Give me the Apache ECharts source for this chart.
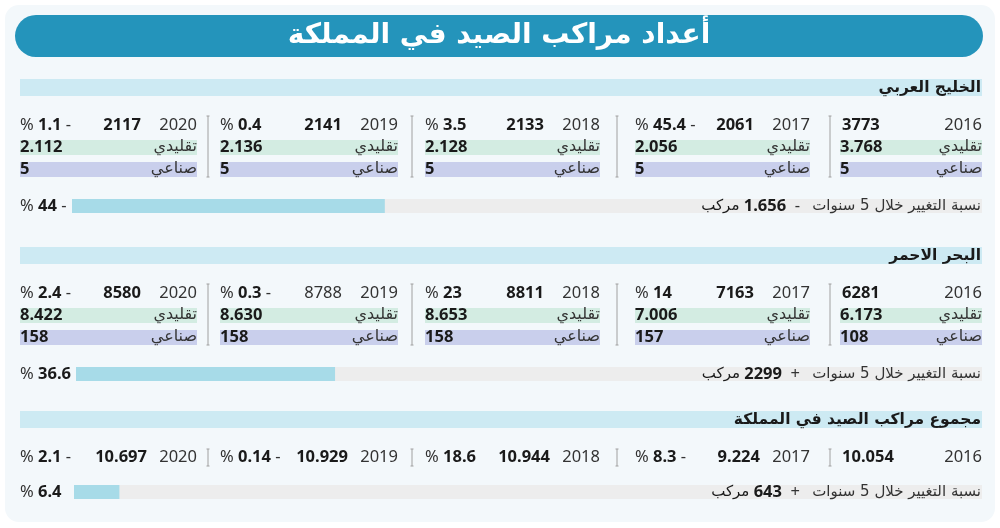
<!DOCTYPE html>
<html>
<head>
<meta charset="utf-8">
<script src="https://cdn.jsdelivr.net/npm/echarts@6/dist/echarts.min.js"></script>
<style>
  html, body { margin: 0; padding: 0; background: #ffffff; }
  #main { width: 1000px; height: 528px; }
</style>
</head>
<body>
<div id="main"></div>
<script>
// البيانات
var title = 'أعداد مراكب الصيد في المملكة';
var years = ['2016', '2017', '2018', '2019', '2020'];
var tradLabel = 'تقليدي';
var indLabel = 'صناعي';
var fiveYearLabel = 'نسبة التغيير خلال 5 سنوات';
var shipsLabel = 'مركب';

var gulfName = 'الخليج العربي';
var gulfTotal = ['3773', '2061', '2133', '2141', '2117'];
var gulfChange = [null, -45.4, 3.5, 0.4, -1.1];
var gulfTrad = ['3.768', '2.056', '2.128', '2.136', '2.112'];
var gulfInd = ['5', '5', '5', '5', '5'];
var gulfFive = -44;
var gulfShips = '1.656';

var redName = 'البحر الاحمر';
var redTotal = ['6281', '7163', '8811', '8788', '8580'];
var redChange = [null, 14, 23, -0.3, -2.4];
var redTrad = ['6.173', '7.006', '8.653', '8.630', '8.422'];
var redInd = ['108', '157', '158', '158', '158'];
var redFive = 36.6;
var redShips = '2299';

var allName = 'مجموع مراكب الصيد في المملكة';
var allTotal = ['10.054', '9.224', '10.944', '10.929', '10.697'];
var allChange = [null, -8.3, 18.6, -0.14, -2.1];
var allFive = 6.4;
var allShips = '643';

var myChart = echarts.init(document.getElementById('main'));

var numFont = "'Noto Sans', 'DejaVu Sans', sans-serif";
var arFont = "'DejaVu Sans', 'Noto Sans', sans-serif";
var ink = '#1a1a1a';
var fs = 16.5;

// أعمدة السنوات من اليمين إلى اليسار
var colLeft = [840, 635, 425, 220, 20];
var colRight = [982, 810, 600, 398, 197];
var sepX = [830, 617, 412, 208];

var richPct = {
  n: { fontSize: fs, fontFamily: numFont, fill: '#333333' },
  b: { fontSize: fs, fontWeight: 'bold', fontFamily: numFont, fill: ink }
};

function pctText(v) {
  var s = '{n|%} {b|' + Math.abs(v) + '}';
  if (v < 0) s += ' {n|-}';
  return s;
}

var elements = [];

function rect(x, y, w, h, color, r) {
  elements.push({
    type: 'rect', z: -10, silent: true,
    shape: { x: x, y: y, width: w, height: h, r: r || 0 },
    style: { fill: color }
  });
}

function text(x, y, str, opts) {
  elements.push({
    type: 'text', z: 20, silent: true,
    style: Object.assign({
      x: x, y: y, text: str, fill: ink,
      fontSize: fs, fontFamily: numFont,
      align: 'left', verticalAlign: 'middle'
    }, opts || {})
  });
}

function sep(x, y1, y2) {
  elements.push({
    type: 'line', z: 5, silent: true,
    shape: { x1: x, y1: y1, x2: x, y2: y2 },
    style: { stroke: '#a0a0a0', lineWidth: 1 }
  });
  [y1, y2].forEach(function (y) {
    elements.push({
      type: 'line', z: 5, silent: true,
      shape: { x1: x - 1.5, y1: y, x2: x + 1.5, y2: y },
      style: { stroke: '#a0a0a0', lineWidth: 1 }
    });
  });
}

// الخلفية والعنوان
rect(5, 5, 990, 517, '#f3f8fb', 14);
rect(15, 15, 968, 42, '#2494bb', 21);
text(499, 36, title, {
  fill: '#ffffff', fontSize: 28, fontWeight: 'bold', fontFamily: arFont, align: 'center'
});

function section(top, name, totals, changes, trad, ind, five, ships, barY) {
  rect(20, top, 962, 17, '#cdeaf3');
  text(981, top + 9, name, { fontSize: 15.5, fontWeight: 'bold', fontFamily: arFont, align: 'right' });

  var yRow = top + 46;
  var hasRows = !!trad;
  for (var i = 0; i < years.length; i++) {
    var L = colLeft[i], R = colRight[i];
    text(R, yRow, years[i], { align: 'right', fill: '#333333' });
    var plain = (name === redName && i === 3);
    if (changes[i] === null) {
      text(L + 2, yRow, totals[i], { fontWeight: 'bold' });
    } else {
      text(R - (hasRows ? 56 : 50), yRow, totals[i], {
        align: 'right', fontWeight: plain ? 'normal' : 'bold', fill: plain ? '#333333' : ink
      });
      text(L, yRow, pctText(changes[i]), { rich: richPct });
    }
    if (hasRows) {
      rect(L, yRow + 15, R - L, 15, '#d3ece2');
      rect(L, yRow + 37, R - L, 15, '#c9cfec');
      text(L, yRow + 22, trad[i], { fontWeight: 'bold' });
      text(R, yRow + 22, tradLabel, { align: 'right', fontFamily: arFont, fontSize: 16, fill: '#333333' });
      text(L, yRow + 44, ind[i], { fontWeight: 'bold' });
      text(R, yRow + 44, indLabel, { align: 'right', fontFamily: arFont, fontSize: 16, fill: '#333333' });
    }
  }
  for (var k = 0; k < sepX.length; k++) {
    if (hasRows) sep(sepX[k], yRow - 9, yRow + 52);
    else sep(sepX[k], yRow - 8, yRow + 9);
  }

  // نسبة التغيير خلال 5 سنوات
  text(20, barY, pctText(five), { rich: richPct });
  text(981, barY, fiveYearLabel, { align: 'right', fontFamily: arFont, fontSize: 15, fill: '#333333' });
  text(800, barY, '{a|' + shipsLabel + '} {b|' + ships + '}  {n|' + (five < 0 ? '-' : '+') + '}', {
    align: 'right',
    rich: {
      a: { fontSize: 15, fontFamily: arFont, fill: ink },
      b: richPct.b,
      n: richPct.n
    }
  });
}

section(79, gulfName, gulfTotal, gulfChange, gulfTrad, gulfInd, gulfFive, gulfShips, 206);
section(247, redName, redTotal, redChange, redTrad, redInd, redFive, redShips, 374);
section(411, allName, allTotal, allChange, null, null, allFive, allShips, 492);

// أشرطة نسبة التغيير
var fiveValues = [gulfFive, redFive, allFive];
var barYs = [206, 374, 492];
var barLefts = [72, 76, 74];

var grids = [], xAxes = [], yAxes = [], series = [];
fiveValues.forEach(function (v, i) {
  grids.push({ left: barLefts[i], right: 18, top: barYs[i] - 7, height: 14 });
  xAxes.push({ type: 'value', gridIndex: i, min: 0, max: 128, show: false });
  yAxes.push({ type: 'category', gridIndex: i, data: [''], show: false });
  series.push({
    type: 'bar', xAxisIndex: i, yAxisIndex: i, z: 10,
    barWidth: 14, silent: true,
    data: [Math.abs(v)],
    itemStyle: { color: '#a7dbe8' },
    showBackground: true,
    backgroundStyle: { color: '#ededed' }
  });
});

var option = {
  animation: false,
  grid: grids,
  xAxis: xAxes,
  yAxis: yAxes,
  series: series,
  graphic: { elements: elements }
};

myChart.setOption(option);
</script>
</body>
</html>
